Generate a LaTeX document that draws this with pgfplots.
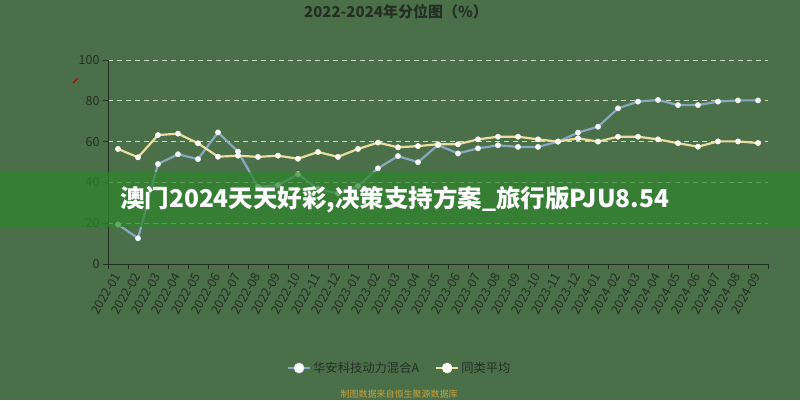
\documentclass[border=0pt]{standalone}
\usepackage{fontspec}
\setmainfont{Noto Sans CJK SC}
\usepackage{pgfplots}
\pgfplotsset{compat=1.18}
\usepackage{pgfplotstable}

\definecolor{bgc}{RGB}{75,112,73}
\definecolor{txtc}{RGB}{36,46,36}
\definecolor{gridc}{RGB}{200,216,196}
\definecolor{fundc}{RGB}{136,168,194}
\definecolor{avgc}{RGB}{234,220,160}
\definecolor{bandc}{RGB}{45,133,42}
\definecolor{notec}{RGB}{200,160,60}

% month index, percentile
\pgfplotstableread{
i v
0 19.4
1 12.6
2 49.0
3 53.8
4 51.4
5 64.5
6 55.1
7 37.9
8 38.6
9 44.0
10 36.8
11 34.6
12 38.2
13 46.9
14 52.9
15 49.9
16 58.3
17 54.2
18 56.7
19 58.2
20 57.4
21 57.4
22 60.0
23 64.4
24 67.3
25 76.3
26 79.6
27 80.4
28 77.9
29 77.9
30 79.6
31 80.2
32 80.2
}\fundtable

\pgfplotstableread{
i v
0 56.4
1 52.3
2 63.2
3 63.9
4 59.2
5 52.6
6 53.1
7 52.5
8 53.1
9 51.6
10 54.9
11 52.5
12 56.4
13 59.5
14 57.2
15 57.8
16 58.7
17 58.7
18 61.1
19 62.4
20 62.4
21 61.1
22 60.0
23 61.6
24 60.0
25 62.4
26 62.4
27 61.1
28 59.2
29 57.5
30 60.1
31 60.1
32 59.3
}\avgtable

\begin{document}
\begin{tikzpicture}[x=1pt,y=1pt]
\useasboundingbox (0,0) rectangle (800,400);
\fill[bgc] (0,0) rectangle (800,400);

\node[font=\fontsize{15}{17}\selectfont\bfseries, text=txtc] at (396,388) {2022-2024年分位图（\%）};

\begin{axis}[
  at={(108pt,136pt)}, anchor=south west,
  scale only axis, width=660pt, height=204pt,
  xmin=-0.5, xmax=32.5, ymin=0, ymax=100,
  axis lines*=left,
  axis line style={txtc, line width=0.8pt},
  xtick={0,...,32},
  xticklabels={2022-01,2022-02,2022-03,2022-04,2022-05,2022-06,2022-07,2022-08,2022-09,2022-10,2022-11,2022-12,
    2023-01,2023-02,2023-03,2023-04,2023-05,2023-06,2023-07,2023-08,2023-09,2023-10,2023-11,2023-12,
    2024-01,2024-02,2024-03,2024-04,2024-05,2024-06,2024-07,2024-08,2024-09},
  minor xtick={-0.5,0.5,...,32.5},
  major x tick style={draw=none},
  minor x tick style={txtc, line width=0.8pt},
  minor tick length=5pt,
  ytick={0,20,40,60,80,100},
  major y tick style={txtc, line width=0.8pt},
  major tick length=5pt,
  tick align=outside,
  ymajorgrids,
  grid style={gridc, dashed, line width=0.7pt, dash pattern=on 5pt off 4pt},
  /pgf/number format/assume math mode=true,
  x tick label style={rotate=60, anchor=east, font=\fontsize{12.5}{13}\selectfont, text=txtc, xshift=-1pt, yshift=-2pt},
  y tick label style={font=\fontsize{12.5}{13}\selectfont, text=txtc},
  legend style={at={(0.442,-0.51)}, anchor=center, draw=none, fill=none,
    font=\fontsize{12.3}{14}\selectfont, text=txtc,
    /tikz/every even column/.append style={column sep=14pt}},
  legend columns=2,
  legend cell align=left,
  clip=false,
]
\addplot[fundc, line width=2.2pt, mark=*, mark size=2.6pt,
  mark options={fill=white!92!fundc, draw=white!80!fundc, line width=0.6pt},
  legend image code/.code={
    \draw[fundc, line width=2.2pt] (0pt,0pt) -- (22pt,0pt);
    \fill[white, draw=white!70!fundc, line width=0.6pt] (11pt,0pt) circle (5pt);
  }]
  table[x=i, y=v] {\fundtable};
\addlegendentry{华安科技动力混合A}
\addplot[avgc, line width=2.2pt, mark=*, mark size=2.6pt,
  mark options={fill=white!90!avgc, draw=white!80!avgc, line width=0.6pt},
  legend image code/.code={
    \draw[avgc, line width=2.2pt] (0pt,0pt) -- (22pt,0pt);
    \fill[white!92!avgc, draw=white!70!avgc, line width=0.6pt] (11pt,0pt) circle (5pt);
  }]
  table[x=i, y=v] {\avgtable};
\addlegendentry{同类平均}
\end{axis}

\draw[red!75!black, line width=1.3pt] (73,317) -- (78,322);

\fill[bandc, opacity=0.7] (0,173) rectangle (800,228);
\node[anchor=west, text=white, font=\fontsize{24.5}{26}\selectfont\bfseries, inner sep=0pt] at (120,200) {澳门2024天天好彩,决策支持方案\_旅行版PJU8.54};

\node[text=notec, font=\fontsize{9}{10}\selectfont] at (399,6) {制图数据来自恒生聚源数据库};
\end{tikzpicture}
\end{document}
